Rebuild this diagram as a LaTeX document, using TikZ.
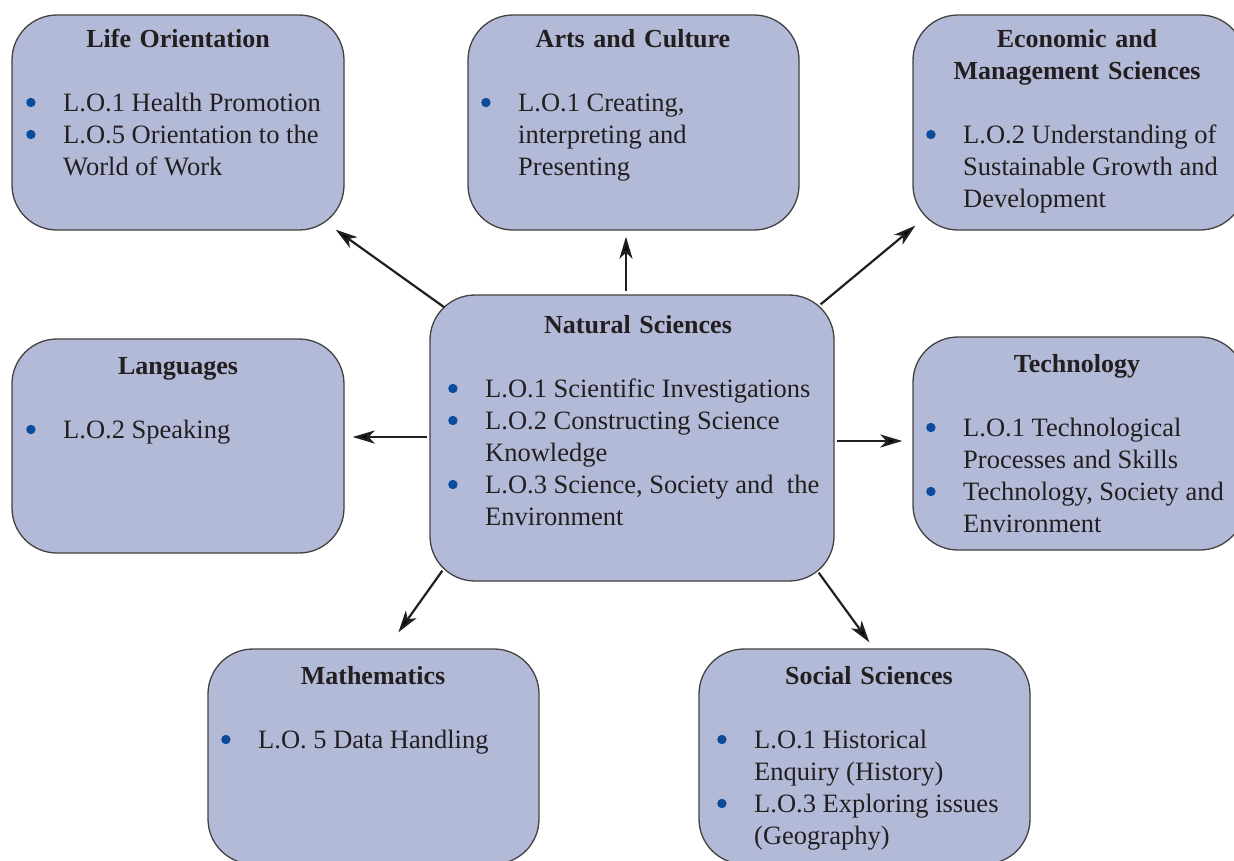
\documentclass[tikz,border=0pt]{standalone}
\usepackage{fontspec}
\setmainfont{Liberation Serif}
\usetikzlibrary{arrows.meta,calc}
\definecolor{boxfill}{HTML}{B3BAD8}
\definecolor{bulblue}{HTML}{0B4C9A}
\definecolor{ink}{HTML}{231F20}
\newcommand{\bul}{\makebox[37pt][l]{\tikz[baseline=0pt]\fill[bulblue](5pt,8.5pt) circle (4.7pt);}}
\newcommand{\itm}[1]{\noindent\hangindent=37pt\hangafter=1\bul #1\par}
\newenvironment{itemsbox}{\begin{minipage}[t]{400pt}\fontsize{26.5}{32}\selectfont}{\end{minipage}}
\tikzset{
  box/.style={draw=ink!85, line width=1.3pt, fill=boxfill, rounded corners=45pt, inner sep=0pt},
  ttl/.style={text=ink, font=\fontsize{26}{32}\selectfont\bfseries, text width=330pt, align=center, anchor=base, inner sep=0pt},
  body/.style={text=ink, anchor=base west, inner sep=0pt},
  arr/.style={draw=ink, line width=2.2pt, -{Stealth[length=22pt,width=13pt,inset=6pt]}}
}
\begin{document}
\begin{tikzpicture}[x=1pt,y=-1pt]
\useasboundingbox (0,0) rectangle (1234,860);
% boxes
\node[box, minimum width=332pt, minimum height=215pt] (lo) at (178,122.5) {};
\node[box, minimum width=331pt, minimum height=215pt] (ac) at (633.5,122.5) {};
\node[box, minimum width=332pt, minimum height=215pt] (ems) at (1079,122.5) {};
\node[box, minimum width=332pt, minimum height=214pt] (lang) at (178,446) {};
\node[box, minimum width=404pt, minimum height=286pt] (ns) at (632,438) {};
\node[box, minimum width=332pt, minimum height=213pt] (tech) at (1079,443.5) {};
\node[box, minimum width=331pt, minimum height=215pt] (math) at (373.5,756.5) {};
\node[box, minimum width=331pt, minimum height=215pt] (ss) at (864.5,756.5) {};
% titles
\node[ttl] (lo-t) at (178,47) {Life Orientation};
\node[ttl] (ac-t) at (633,47) {Arts and Culture};
\node[ttl] (ems-t) at (1077,47) {Economic and\\Management Sciences};
\node[ttl] (lang-t) at (178,374) {Languages};
\node[ttl] (ns-t) at (638,333) {Natural Sciences};
\node[ttl] (tech-t) at (1077,372) {Technology};
\node[ttl] (math-t) at (373,684) {Mathematics};
\node[ttl] (ss-t) at (869,684) {Social Sciences};
% bodies
\node[body] (lo-b) at (26,111) {\begin{itemsbox}\itm{L.O.1 Health Promotion}\itm{L.O.5 Orientation to the\\World of Work}\end{itemsbox}};
\node[body] (ac-b) at (481,111) {\begin{itemsbox}\itm{L.O.1 Creating,\\interpreting and\\Presenting}\end{itemsbox}};
\node[body] (ems-b) at (926,143) {\begin{itemsbox}\itm{L.O.2 Understanding of\\Sustainable Growth and\\Development}\end{itemsbox}};
\node[body] (lang-b) at (26,438) {\begin{itemsbox}\itm{L.O.2 Speaking}\end{itemsbox}};
\node[body] (ns-b) at (448,397) {\begin{itemsbox}\itm{L.O.1 Scientific Investigations}\itm{L.O.2 Constructing Science\\Knowledge}\itm{L.O.3 Science, Society and\ \ the\\Environment}\end{itemsbox}};
\node[body] (tech-b) at (926,436) {\begin{itemsbox}\itm{L.O.1 Technological\\Processes and Skills}\itm{Technology, Society and\\Environment}\end{itemsbox}};
\node[body] (math-b) at (221,748) {\begin{itemsbox}\itm{L.O. 5 Data Handling}\end{itemsbox}};
\node[body] (ss-b) at (717,748) {\begin{itemsbox}\itm{L.O.1 Historical\\Enquiry (History)}\itm{L.O.3 Exploring issues\\(Geography)}\end{itemsbox}};
% arrows
\draw[arr] ($(ns.north west)+(15,13)$) -- ($(lo.south east)+(-9,-1)$);
\draw[arr] ($(ns.north)+(-6,-3)$) -- ($(ac.south)+(-7.5,6)$);
\draw[arr] ($(ns.north east)+(-14,10)$) -- ($(ems.south west)+(3,-5)$);
\draw[arr] ($(ns.west)+(-2,-1)$) -- ($(lang.east)+(8,-9)$);
\draw[arr] ($(ns.east)+(2,3)$) -- ($(tech.west)+(-10,-2.5)$);
\draw[arr] ($(ns.south west)+(13,-11)$) -- ($(math.north west)+(191,-16)$);
\draw[arr] ($(ns.south east)+(-16,-9)$) -- ($(ss.north west)+(171,-6)$);
\end{tikzpicture}
\end{document}
